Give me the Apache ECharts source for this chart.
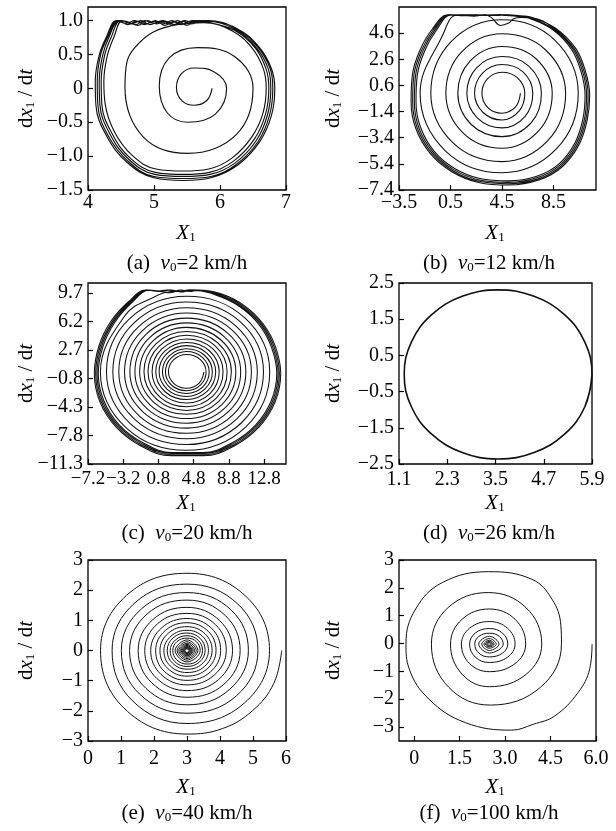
<!DOCTYPE html>
<html><head><meta charset="utf-8">
<script src="https://cdn.jsdelivr.net/npm/echarts@6/dist/echarts.min.js"></script>
<style>html,body{margin:0;padding:0;background:#fff}#c{width:616px;height:831px}</style>
</head><body><div id="c"></div>
<script>
// ---------- axis ticks & labels ----------
const aXTicks = [4, 5, 6, 7];              const aXLabels = ['4', '5', '6', '7'];
const aYTicks = [-1.5, -1, -0.5, 0, 0.5, 1]; const aYLabels = ['\u22121.5', '\u22121.0', '\u22120.5', '0', '0.5', '1.0'];
const bXTicks = [-3.5, 0.5, 4.5, 8.5];     const bXLabels = ['\u22123.5', '0.5', '4.5', '8.5'];
const bYTicks = [-7.4, -5.4, -3.4, -1.4, 0.6, 2.6, 4.6];
const bYLabels = ['\u22127.4', '\u22125.4', '\u22123.4', '\u22121.4', '0.6', '2.6', '4.6'];
const cXTicks = [-7.2, -3.2, 0.8, 4.8, 8.8, 12.8];
const cXLabels = ['\u22127.2', '\u22123.2', '0.8', '4.8', '8.8', '12.8'];
const cYTicks = [-11.3, -7.8, -4.3, -0.8, 2.7, 6.2, 9.7];
const cYLabels = ['\u221211.3', '\u22127.8', '\u22124.3', '\u22120.8', '2.7', '6.2', '9.7'];
const dXTicks = [1.1, 2.3, 3.5, 4.7, 5.9];  const dXLabels = ['1.1', '2.3', '3.5', '4.7', '5.9'];
const dYTicks = [-2.5, -1.5, -0.5, 0.5, 1.5, 2.5];
const dYLabels = ['\u22122.5', '\u22121.5', '\u22120.5', '0.5', '1.5', '2.5'];
const eXTicks = [0, 1, 2, 3, 4, 5, 6];      const eXLabels = ['0', '1', '2', '3', '4', '5', '6'];
const eYTicks = [-3, -2, -1, 0, 1, 2, 3];   const eYLabels = ['\u22123', '\u22122', '\u22121', '0', '1', '2', '3'];
const fXTicks = [0, 1.5, 3, 4.5, 6];        const fXLabels = ['0', '1.5', '3.0', '4.5', '6.0'];
const fYTicks = [-3, -2, -1, 0, 1, 2, 3];   const fYLabels = ['\u22123', '\u22122', '\u22121', '0', '1', '2', '3'];

// ---------- axis extents ----------
const aXRange = [4, 7],       aYRange = [-1.5, 1.2];
const bXRange = [-3.5, 11.8], bYRange = [-7.4, 6.6];
const cXRange = [-7.2, 15.3], cYRange = [-11.3, 10.9];
const dXRange = [1.1, 5.9],   dYRange = [-2.5, 2.5];
const eXRange = [0, 6],       eYRange = [-3, 3];
const fXRange = [-0.5, 6],    fYRange = [-3.5, 3];

// ---------- (a) v0 = 2 km/h : trajectory (spiral into saturated limit cycle) ----------
const aPath = [[5.88,0.00],[5.80,-0.18],[5.61,-0.25],[5.43,-0.19],[5.34,0.01],[5.42,0.22],[5.61,0.30],[5.90,0.25],
 [6.10,0.00],[5.93,-0.38],[5.51,-0.50],[5.20,-0.36],[5.08,0.03],[5.23,0.45],[5.66,0.60],[6.22,0.47],
 [6.50,0.00],[6.25,-0.68],[5.51,-0.96],[4.84,-0.72],[4.56,0.02],
 [4.59,0.39],[4.70,0.59],[4.95,0.81],[5.25,0.92],[5.55,0.96],
 [5.75,0.97],[6.18,0.85],[6.49,0.59],[6.66,0.28],[6.70,0.00],[6.65,-0.37],[6.48,-0.72],[6.18,-1.03],[5.83,-1.19],[5.45,-1.22],[5.03,-1.19],[4.67,-0.99],[4.40,-0.64],[4.26,-0.23],[4.24,0.10],[4.29,0.47],[4.39,0.75],[4.52,1.00],
 [4.66,0.95],[4.80,1.00],[4.94,0.94],[5.08,0.99],[5.22,0.95],[5.36,1.00],[5.50,0.93],[5.63,0.99],
 [5.77,0.98],[6.21,0.86],[6.53,0.60],[6.70,0.28],[6.74,0.00],[6.69,-0.38],[6.52,-0.75],[6.21,-1.07],[5.84,-1.24],[5.45,-1.27],[5.02,-1.24],[4.64,-1.03],[4.36,-0.66],[4.21,-0.24],[4.20,0.10],[4.25,0.48],[4.35,0.75],[4.49,1.00],
 [4.62,0.97],[4.76,0.93],[4.90,1.00],[5.04,0.95],[5.18,0.99],[5.32,0.94],[5.46,1.00],[5.60,0.96],
 [5.79,0.99],[6.23,0.87],[6.55,0.60],[6.73,0.29],[6.77,0.00],[6.72,-0.39],[6.55,-0.77],[6.23,-1.10],[5.85,-1.27],[5.45,-1.30],[5.01,-1.27],[4.62,-1.05],[4.33,-0.67],[4.18,-0.24],[4.17,0.10],[4.22,0.48],[4.32,0.76],[4.47,1.00],
 [4.60,0.94],[4.74,0.99],[4.88,0.95],[5.02,1.00],[5.16,0.93],[5.30,0.98],[5.44,0.95],[5.58,1.00],
 [5.80,1.00],[6.25,0.88],[6.57,0.61],[6.76,0.29],[6.80,0.00],[6.75,-0.40],[6.58,-0.78],[6.25,-1.12],[5.86,-1.30],[5.45,-1.33],[5.00,-1.30],[4.60,-1.07],[4.30,-0.69],[4.15,-0.25],[4.14,0.10],[4.19,0.49],[4.30,0.76],[4.45,1.00],
 [4.58,0.99],[4.72,0.94],[4.86,1.00],[5.00,0.96],[5.14,1.00],[5.28,0.93],[5.42,0.99],[5.56,0.95],
 [5.81,1.00],[6.26,0.88],[6.59,0.61],[6.78,0.29],[6.83,0.00],[6.78,-0.40],[6.60,-0.79],[6.27,-1.13],[5.86,-1.32],[5.45,-1.36],[5.00,-1.32],[4.59,-1.09],[4.28,-0.70],[4.12,-0.25],[4.11,0.10],[4.17,0.49],[4.28,0.76],[4.43,1.00],
 [4.57,0.96],[4.71,1.00],[4.85,0.94],[4.99,0.99],[5.13,0.95],[5.27,1.00],[5.41,0.94],[5.55,0.99],[5.70,0.97],[5.90,0.99]];

// ---------- (b) v0 = 12 km/h ----------
const bPath = [[5.93,0],[5.55,-1.05],[4.50,-1.53],[3.40,-1.10],[2.94,0],[3.38,1.12],[4.50,1.61],[5.69,1.19],
 [6.27,0],[5.84,-1.34],[4.50,-2.04],[3.03,-1.47],[2.37,0],[2.97,1.53],[4.50,2.20],[6.13,1.63],
 [6.89,0],[6.28,-1.78],[4.50,-2.65],[2.60,-1.90],[1.77,0],[2.54,1.96],[4.50,2.81],[6.58,2.08],
 [7.56,0],[6.76,-2.26],[4.50,-3.32],[2.11,-2.39],[1.07,0],[2.03,2.47],[4.50,3.58],[7.14,2.64],
 [8.40,0],[7.36,-2.86],[4.50,-4.21],[1.47,-3.03],[0.14,0],[1.35,3.15],[4.50,4.55],[7.85,3.35],
 [9.44,0],[8.09,-3.59],[4.50,-5.23],[0.70,-3.80],[-1.03,0],[0.55,3.95],[4.50,5.62],[8.58,4.08],
 [10.42,0],[8.74,-4.24],[4.50,-6.08],[0.10,-4.40],[-1.86,0],[-0.06,4.56],
 [0.90,5.97],[1.80,6.00],[2.80,5.96],[3.80,6.00],[4.80,5.95],[5.70,5.88],
 [6.70,5.70],[8.45,4.85],[9.90,3.35],[10.65,1.62],[10.95,-0.13],[10.78,-1.98],[10.15,-3.83],[8.93,-5.40],[7.20,-6.35],[5.00,-6.70],[2.78,-6.52],[0.82,-5.75],[-0.78,-4.42],[-1.83,-2.60],[-2.18,-0.62],[-2.08,1.38],[-1.50,3.25],[-0.62,4.78],[0.55,6.00],
 [1.50,5.93],[2.50,6.00],[3.50,5.95],[4.30,6.00],[5.00,5.98],[5.90,5.85],
 [6.75,5.74],[8.52,4.90],[10.00,3.39],[10.77,1.63],[11.07,-0.13],[10.90,-2.00],[10.26,-3.87],[9.02,-5.48],[7.26,-6.45],[5.01,-6.82],[2.74,-6.63],[0.74,-5.84],[-0.88,-4.48],[-1.96,-2.63],[-2.31,-0.63],[-2.21,1.39],[-1.62,3.28],[-0.73,4.81],[0.45,6.00],
 [1.40,5.97],[2.30,5.90],[3.20,6.00],[3.72,5.75],[4.37,5.19],[5.02,5.37],[5.41,5.70],[6.00,5.80],
 [6.80,5.77],[8.59,4.94],[10.10,3.42],[10.88,1.65],[11.19,-0.13],[11.01,-2.02],[10.37,-3.91],[9.10,-5.55],[7.31,-6.55],[5.02,-6.92],[2.71,-6.73],[0.67,-5.92],[-0.98,-4.54],[-2.08,-2.66],[-2.44,-0.64],[-2.34,1.40],[-1.74,3.30],[-0.84,4.84],[0.37,6.00],
 [1.30,6.00],[2.20,5.95],[3.10,6.00],[4.00,5.96],[5.00,6.00],[6.00,5.92],
 [6.84,5.80],[8.66,4.98],[10.21,3.45],[10.99,1.66],[11.31,-0.13],[11.12,-2.04],[10.47,-3.96],[9.18,-5.62],[7.36,-6.64],[5.02,-7.02],[2.68,-6.82],[0.60,-6.00],[-1.08,-4.60],[-2.20,-2.68],[-2.56,-0.64],[-2.46,1.41],[-1.86,3.32],[-0.95,4.86],[0.29,6.00],
 [1.20,5.96],[2.20,6.00],[3.20,5.95],[4.20,6.00],[5.20,5.98]];

// ---------- (c) v0 = 20 km/h ----------
const cPath = [[5.98,0],[5.41,-1.41],[4.0,-2.00],[2.56,-1.44],[1.94,0],[2.52,1.48],[4.0,2.14],[5.54,1.54],
 [6.22,0],[5.60,-1.60],[4.0,-2.31],[2.33,-1.67],[1.60,0],[2.27,1.73],[4.0,2.49],[5.79,1.79],
 [6.57,0],[5.85,-1.85],[4.0,-2.66],[2.09,-1.91],[1.26,0],[2.03,1.97],[4.0,2.84],[6.04,2.04],
 [6.93,0],[6.10,-2.10],[4.0,-3.02],[1.83,-2.17],[0.88,0],[1.76,2.24],[4.0,3.22],[6.31,2.31],
 [7.31,0],[6.37,-2.37],[4.0,-3.40],[1.56,-2.44],[0.50,0],[1.49,2.51],[4.0,3.61],[6.59,2.59],
 [7.71,0],[6.66,-2.66],[4.0,-3.82],[1.26,-2.74],[0.08,0],[1.19,2.81],[4.0,4.04],[6.90,2.90],
 [8.15,0],[6.98,-2.98],[4.0,-4.27],[0.94,-3.06],[-0.38,0],[0.86,3.14],[4.0,4.50],[7.22,3.22],
 [8.61,0],[7.30,-3.30],[4.0,-4.73],[0.62,-3.38],[-0.84,0],[0.54,3.46],[4.0,4.96],[7.55,3.55],
 [9.09,0],[7.64,-3.64],[4.0,-5.21],[0.27,-3.73],[-1.33,0],[0.19,3.81],[4.0,5.46],[7.91,3.91],
 [9.60,0],[8.01,-4.01],[4.0,-5.73],[-0.10,-4.10],[-1.87,0],[-0.20,4.20],[4.0,6.01],[8.30,4.30],
 [10.15,0],[8.40,-4.40],[4.0,-6.30],[-0.50,-4.50],[-2.44,0],[-0.61,4.61],[4.0,6.59],[8.71,4.71],
 [10.74,0],[8.82,-4.82],[4.0,-6.90],[-0.93,-4.93],[-3.05,0],[-1.04,5.04],[4.0,7.21],[9.15,5.15],
 [11.37,0],[9.27,-5.27],[4.0,-7.54],[-1.39,-5.39],[-3.70,0],[-1.50,5.50],[4.0,7.87],[9.62,5.62],
 [12.04,0],[9.74,-5.74],[4.0,-8.21],[-1.86,-5.86],[-4.38,0],[-1.99,5.99],[4.0,8.56],[10.12,6.12],
 [12.74,0],[10.24,-6.24],[4.0,-8.92],[-2.37,-6.37],[-5.10,0],[-2.50,6.50],[4.0,9.28],[10.62,6.62],
 [13.45,0],[10.74,-6.74],[4.0,-9.62],[-2.86,-6.86],[-5.79,0],[-2.96,6.96],[0.22,9.13],[2.20,9.85],[4.00,9.92],
 [5.20,9.95],[7.85,9.20],[10.30,7.80],[12.30,5.70],[13.65,3.00],[14.25,-0.20],[13.62,-3.55],[11.86,-6.50],[9.18,-8.70],[5.90,-9.88],[2.35,-9.88],[-0.95,-8.70],[-3.65,-6.50],[-5.40,-3.55],[-6.03,-0.20],[-5.50,3.10],[-4.20,6.00],[-2.30,8.40],[-0.20,10.00],
 [1.00,9.85],[2.20,10.03],[3.40,9.80],[4.40,10.00],
 [5.25,9.98],[7.90,9.30],[10.40,7.90],[12.45,5.77],[13.80,3.03],[14.40,-0.20],[13.77,-3.60],[11.98,-6.60],[9.26,-8.83],[5.92,-10.02],[2.32,-10.02],[-1.03,-8.83],[-3.77,-6.60],[-5.55,-3.60],[-6.18,-0.20],[-5.65,3.13],[-4.33,6.07],[-2.40,8.47],[-0.35,10.03],
 [0.90,9.90],[2.10,9.70],[3.30,10.03],[4.40,9.85],
 [5.28,10.00],[7.95,9.42],[10.50,8.00],[12.58,5.83],[13.95,3.07],[14.55,-0.20],[13.92,-3.66],[12.10,-6.70],[9.34,-8.96],[5.94,-10.16],[2.30,-10.16],[-1.11,-8.96],[-3.88,-6.70],[-5.70,-3.66],[-6.33,-0.20],[-5.80,3.17],[-4.46,6.13],[-2.50,8.53],[-0.50,10.03],
 [0.80,9.85],[2.00,10.03],[3.20,9.90],[4.30,10.03],
 [5.30,10.03],[8.00,9.55],[10.60,8.10],[12.70,5.90],[14.10,3.10],[14.70,-0.20],[14.06,-3.71],[12.22,-6.79],[9.41,-9.09],[5.95,-10.30],[2.27,-10.30],[-1.19,-9.09],[-4.00,-6.79],[-5.84,-3.71],[-6.48,-0.20],[-5.95,3.20],[-4.60,6.20],[-2.60,8.60],[-0.65,10.03],
 [0.60,9.90],[1.80,10.03],[3.00,9.85],[4.20,10.03],[5.30,10.00]];

// ---------- (d) v0 = 26 km/h : closed orbit ----------
const dPath = [[5.90,-0.025],[5.722,-0.919],[5.216,-1.676],[4.459,-2.182],[3.565,-2.360],[2.671,-2.182],[1.914,-1.676],[1.408,-0.919],
 [1.23,-0.025],[1.408,0.869],[1.914,1.626],[2.671,2.132],[3.565,2.310],[4.459,2.132],[5.216,1.626],[5.722,0.869],
 [5.90,-0.025],[5.722,-0.919]];

// ---------- (e) v0 = 40 km/h ----------
const ePath = [[5.87,0],[5.63,-1.09],[4.99,-1.99],[4.07,-2.59],[3,-2.77],[1.09,-1.91],[0.38,0],[1.17,1.83],[3,2.56],[4.79,1.79],
 [5.50,0],[4.74,-1.74],[3,-2.42],[1.34,-1.66],[0.73,0],[1.42,1.58],[3,2.20],[4.54,1.54],
 [5.15,0],[4.50,-1.50],[3,-2.08],[1.56,-1.44],[1.01,0],[1.62,1.38],[3,1.92],[4.34,1.34],
 [4.86,0],[4.29,-1.29],[3,-1.80],[1.75,-1.25],[1.26,0],[1.79,1.21],[3,1.67],[4.16,1.16],
 [4.61,0],[4.12,-1.12],[3,-1.55],[1.93,-1.07],[1.52,0],[1.97,1.03],[3,1.43],[3.99,0.99],
 [4.38,0],[3.96,-0.96],[3,-1.33],[2.08,-0.92],[1.72,0],[2.11,0.89],[3,1.23],[3.86,0.86],
 [4.19,0],[3.82,-0.82],[3,-1.14],[2.21,-0.79],[1.90,0],[2.24,0.76],[3,1.06],[3.74,0.74],
 [4.02,0],[3.71,-0.71],[3,-0.99],[2.31,-0.69],[2.05,0],[2.34,0.66],[3,0.92],[3.64,0.64],
 [3.88,0],[3.61,-0.61],[3,-0.85],[2.41,-0.59],[2.18,0],[2.43,0.57],[3,0.79],[3.55,0.55],
 [3.76,0],[3.53,-0.53],[3,-0.73],[2.49,-0.51],[2.30,0],[2.52,0.48],[3,0.67],[3.47,0.47],
 [3.65,0],[3.45,-0.45],[3,-0.62],[2.57,-0.43],[2.40,0],[2.58,0.42],[3,0.58],[3.40,0.40],
 [3.55,0],[3.38,-0.38],[3,-0.53],[2.63,-0.37],[2.49,0],[2.65,0.35],[3,0.49],[3.34,0.34],
 [3.47,0],[3.33,-0.33],[3,-0.45],[2.69,-0.31],[2.57,0],[2.70,0.30],[3,0.41],[3.29,0.29],
 [3.40,0],[3,-0.38],[2.64,0],[3,0.35],[3.33,0],[3,-0.32],[2.70,0],[3,0.29],
 [3.28,0],[3,-0.27],[2.75,0],[3,0.24],[3.23,0],[3,-0.22],[2.79,0],[3,0.20],
 [3.19,0],[3,-0.18],[2.825,0],[3,0.17],[3.16,0],[3,-0.155],[2.85,0],[3,0.14],
 [3.135,0],[3,-0.13],[2.88,0],[3,0.115],[3.11,0],[3,-0.105],[2.90,0],[3,0.095],
 [3.09,0],[3,-0.085],[2.92,0],[3,0.075],[3.07,0],[3,-0.065],[2.94,0],[3,0.055],[3.05,0]];

// ---------- (f) v0 = 100 km/h ----------
const fPath = [[5.87,-0.02],[5.79,-0.92],[5.41,-1.76],[4.64,-2.60],[3.93,-2.90],[3.22,-3.11],[1.69,-2.84],[0.49,-2.00],[-0.16,-0.92],
 [-0.27,0.01],[0.05,1.24],[0.93,2.19],[2.46,2.58],[3.88,2.31],[4.55,1.59],[4.84,0.66],
 [4.86,-0.02],[4.17,-1.57],[2.51,-2.21],[1.14,-1.57],[0.57,-0.02],[1.12,1.29],[2.44,1.83],[3.69,1.29],
 [4.21,-0.02],[3.70,-1.10],[2.48,-1.55],[1.58,-1.10],[1.20,-0.02],[1.58,0.87],[2.48,1.24],[3.33,0.87],
 [3.68,-0.02],[3.33,-0.72],[2.48,-1.01],[1.83,-0.72],[1.56,-0.02],[1.83,0.55],[2.48,0.79],[3.08,0.55],
 [3.33,-0.02],[3.08,-0.49],[2.48,-0.68],[2.02,-0.49],[1.83,-0.02],[2.02,0.38],[2.48,0.54],[2.91,0.38],
 [3.09,-0.02],[2.91,-0.35],[2.48,-0.48],[2.14,-0.35],[2.00,-0.02],[2.14,0.26],[2.48,0.37],[2.81,0.26],
 [2.94,-0.02],[2.48,-0.34],[2.13,-0.02],[2.48,0.26],[2.80,-0.02],[2.48,-0.25],[2.23,-0.02],[2.48,0.18],
 [2.71,-0.02],[2.48,-0.17],[2.30,-0.02],[2.48,0.12],[2.64,-0.02],[2.48,-0.12],[2.35,-0.02],[2.48,0.08],
 [2.59,-0.02],[2.48,-0.09],[2.39,-0.02],[2.48,0.05],[2.55,-0.02],[2.48,-0.06],[2.42,-0.02],[2.48,0.03],[2.52,-0.02]];

// ---------- captions ----------
const captionIds = ['(a)', '(b)', '(c)', '(d)', '(e)', '(f)'];
const captionSpeeds = ['2', '12', '20', '26', '40', '100'];

// ---------- build chart ----------
const F = '"Liberation Serif","Times New Roman",serif';
const panels = [
  {grid: {left: 88, top: 7, width: 198, height: 183}, xr: aXRange, yr: aYRange, xt: aXTicks, xl: aXLabels, yt: aYTicks, yl: aYLabels, data: aPath, lm: 3, w: 1.15},
  {grid: {left: 399, top: 7, width: 197, height: 183}, xr: bXRange, yr: bYRange, xt: bXTicks, xl: bXLabels, yt: bYTicks, yl: bYLabels, data: bPath, lm: 3, w: 1.1},
  {grid: {left: 88, top: 283, width: 198, height: 181}, xr: cXRange, yr: cYRange, xt: cXTicks, xl: cXLabels, yt: cYTicks, yl: cYLabels, data: cPath, lm: 6, w: 1.05, xfs: 19},
  {grid: {left: 399, top: 283, width: 193, height: 181}, xr: dXRange, yr: dYRange, xt: dXTicks, xl: dXLabels, yt: dYTicks, yl: dYLabels, data: dPath, lm: 6, w: 1.6},
  {grid: {left: 88, top: 560, width: 198, height: 181}, xr: eXRange, yr: eYRange, xt: eXTicks, xl: eXLabels, yt: eYTicks, yl: eYLabels, data: ePath, lm: 8},
  {grid: {left: 399, top: 560, width: 197, height: 181}, xr: fXRange, yr: fYRange, xt: fXTicks, xl: fXLabels, yt: fYTicks, yl: fYLabels, data: fPath, lm: 8}
];
function lab(ticks, labels) {
  return function (v) {
    for (let i = 0; i < ticks.length; i++) if (Math.abs(ticks[i] - v) < 1e-6) return labels[i];
    return '';
  };
}
const grids = [], xAxes = [], yAxes = [], series = [];
panels.forEach(function (p, i) {
  grids.push(Object.assign({show: true, borderColor: '#000', borderWidth: 1.3, backgroundColor: 'transparent'}, p.grid));
  xAxes.push({type: 'value', gridIndex: i, min: p.xr[0], max: p.xr[1],
    axisLine: {show: false, onZero: false}, splitLine: {show: false},
    axisTick: {show: true, inside: true, length: 5, lineStyle: {color: '#000', width: 1.2}, customValues: p.xt},
    axisLabel: {customValues: p.xt, formatter: lab(p.xt, p.xl), showMinLabel: true, showMaxLabel: true, hideOverlap: false,
      fontFamily: F, fontSize: p.xfs || 20, color: '#000', margin: p.lm}});
  yAxes.push({type: 'value', gridIndex: i, min: p.yr[0], max: p.yr[1],
    axisLine: {show: false, onZero: false}, splitLine: {show: false},
    axisTick: {show: true, inside: true, length: 5, lineStyle: {color: '#000', width: 1.2}, customValues: p.yt},
    axisLabel: {customValues: p.yt, formatter: lab(p.yt, p.yl), showMinLabel: true, showMaxLabel: true, hideOverlap: false,
      fontFamily: F, fontSize: 20, color: '#000', margin: 5}});
  series.push({type: 'line', xAxisIndex: i, yAxisIndex: i, data: p.data, smooth: 0.4, showSymbol: false, symbol: 'none',
    lineStyle: {color: '#111', width: p.w || 1}, clip: true, silent: true, animation: false});
});
const rich = {
  n: {fontFamily: F, fontSize: 21, lineHeight: 23, fill: '#000'},
  i: {fontFamily: F, fontSize: 21, lineHeight: 23, fontStyle: 'italic', fill: '#000'},
  s: {fontFamily: F, fontSize: 13, lineHeight: 9, verticalAlign: 'bottom', fill: '#000'}
};
const graphic = [];
const colX = [186, 495], capX = [187, 489];
const rowMid = [98.5, 373.5, 650.5], rowXT = [233, 503, 787], rowCap = [263, 533, 813];
const yTitleX = [26, 333];
panels.forEach(function (p, k) {
  const col = k % 2, row = Math.floor(k / 2);
  graphic.push({type: 'text', x: yTitleX[col], y: rowMid[row], rotation: Math.PI / 2,
    style: {text: '{n|d}{i|x}{s|1}{n| / d}{i|t}', rich: rich, align: 'center', verticalAlign: 'middle'}});
  graphic.push({type: 'text', x: colX[col], y: rowXT[row],
    style: {text: '{i|X}{s|1}', rich: rich, align: 'center', verticalAlign: 'middle'}});
  graphic.push({type: 'text', x: capX[col], y: rowCap[row],
    style: {text: '{n|' + captionIds[k] + '  }{i|v}{s|0}{n|=' + captionSpeeds[k] + ' km/h}', rich: rich, align: 'center', verticalAlign: 'middle'}});
});
const chart = echarts.init(document.getElementById('c'), null, {renderer: 'canvas'});
chart.setOption({animation: false, backgroundColor: '#fff', grid: grids, xAxis: xAxes, yAxis: yAxes, series: series, graphic: graphic});
</script></body></html>
